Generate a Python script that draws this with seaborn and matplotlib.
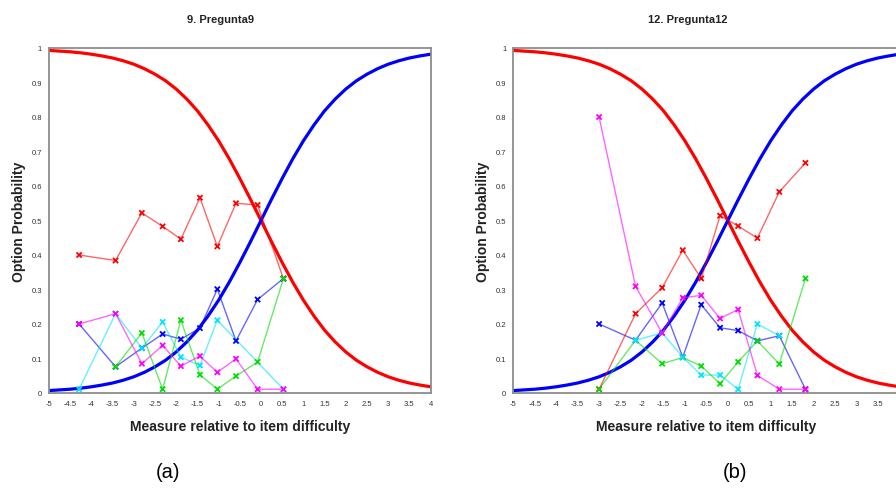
import numpy as np
import pandas as pd
import seaborn as sns
import matplotlib.pyplot as plt

sns.set_style("white")
plt.rcParams["font.family"] = ["Liberation Sans", "DejaVu Sans"]

# model curves (same in both panels)
curve_x = [-5, -4.75, -4.5, -4.25, -4, -3.75, -3.5, -3.25, -3, -2.75, -2.5, -2.25,
           -2, -1.75, -1.5, -1.25, -1, -0.75, -0.5, -0.25, 0, 0.25, 0.5, 0.75,
           1, 1.25, 1.5, 1.75, 2, 2.25, 2.5, 2.75, 3, 3.25, 3.5, 3.75, 4]
curve_red = [0.993, 0.991, 0.989, 0.986, 0.982, 0.977, 0.971, 0.963, 0.953, 0.940,
             0.924, 0.905, 0.881, 0.852, 0.818, 0.777, 0.731, 0.679, 0.622, 0.562,
             0.500, 0.438, 0.378, 0.321, 0.269, 0.223, 0.182, 0.148, 0.119, 0.095,
             0.076, 0.060, 0.047, 0.037, 0.029, 0.023, 0.018]
curve_blue = [0.007, 0.009, 0.011, 0.014, 0.018, 0.023, 0.029, 0.037, 0.047, 0.060,
              0.076, 0.095, 0.119, 0.148, 0.182, 0.223, 0.269, 0.321, 0.378, 0.438,
              0.500, 0.562, 0.622, 0.679, 0.731, 0.777, 0.818, 0.852, 0.881, 0.905,
              0.924, 0.940, 0.953, 0.963, 0.971, 0.977, 0.982]

# panel (a): 9. Pregunta9
q9_x = [-4.29, -3.43, -2.81, -2.32, -1.89, -1.44, -1.03, -0.59, -0.08, 0.53]
q9_red = [0.40, 0.384, 0.522, 0.483, 0.446, 0.566, 0.425, 0.55, 0.545, 0.331]
q9_blue = [0.20, 0.076, 0.13, 0.171, 0.156, 0.188, 0.301, 0.151, 0.271, 0.332]
q9_green = [None, 0.076, 0.174, 0.011, 0.211, 0.053, 0.011, 0.049, 0.09, 0.332]
q9_cyan = [0.011, 0.23, 0.13, 0.206, 0.104, 0.08, 0.211, None, None, 0.011]
q9_magenta = [0.20, 0.23, 0.085, 0.138, 0.078, 0.107, 0.06, 0.099, 0.011, 0.011]

# panel (b): 12. Pregunta12
q12_x = [-3.0, -2.15, -1.53, -1.05, -0.62, -0.18, 0.24, 0.69, 1.2, 1.81]
q12_red = [0.011, 0.23, 0.305, 0.414, 0.332, 0.514, 0.484, 0.449, 0.583, 0.667]
q12_blue = [0.20, 0.153, 0.261, 0.104, 0.256, 0.189, 0.181, 0.151, 0.166, 0.011]
q12_green = [0.011, 0.153, 0.085, 0.103, 0.078, 0.027, 0.09, 0.151, 0.084, 0.332]
q12_cyan = [None, 0.153, 0.174, 0.104, 0.052, 0.052, 0.011, 0.20, 0.166, None]
q12_magenta = [0.80, 0.309, 0.174, 0.276, 0.283, 0.216, 0.242, 0.051, 0.011, 0.011]

palette = {"red": "#ff0000", "blue": "#0000ff", "green": "#00dd00",
           "cyan": "#00e5ff", "magenta": "#ff00ff"}


def make_df(xs, series):
    rows = []
    for name, vals in series.items():
        for x, v in zip(xs, vals):
            if v is not None:
                rows.append({"x": x, "p": v, "option": name})
    return pd.DataFrame(rows)


panels = [
    ("9. Pregunta9", "(a)", q9_x, {"red": q9_red, "blue": q9_blue, "green": q9_green,
                                   "cyan": q9_cyan, "magenta": q9_magenta}),
    ("12. Pregunta12", "(b)", q12_x, {"red": q12_red, "blue": q12_blue, "green": q12_green,
                                      "cyan": q12_cyan, "magenta": q12_magenta}),
]

fig = plt.figure(figsize=(8.96, 4.89), dpi=100)
W, H = 896, 489
lefts = [49, 513.3]
unit = [42.4, 42.9]

curves = pd.DataFrame({"x": curve_x * 2,
                       "p": curve_red + curve_blue,
                       "curve": ["red"] * len(curve_x) + ["blue"] * len(curve_x)})

for i, (title, tag, xs, series) in enumerate(panels):
    left = lefts[i]
    width = 9 * unit[i]
    ax = fig.add_axes([left / W, (H - 394) / H, width / W, 345 / H])
    df = make_df(xs, series)

    sns.lineplot(data=curves, x="x", y="p", hue="curve", palette=palette,
                 linewidth=2.3, legend=False, ax=ax, sort=False)
    for name, sub in df.groupby("option"):
        sns.lineplot(data=sub, x="x", y="p", color=palette[name], linewidth=1,
                     alpha=0.6, legend=False, ax=ax, estimator=None)
    sns.scatterplot(data=df, x="x", y="p", hue="option", palette=palette,
                    marker="x", s=14, linewidth=1.3, legend=False, ax=ax, zorder=4)

    ax.set_xlim(-5, 4)
    ax.set_ylim(0, 1)
    xt = np.arange(-5, 4.01, 0.5)
    ax.set_xticks(xt)
    labels = [("%g" % t) for t in xt]
    if i == 1:
        labels[-1] = ""  # right panel is cropped at the image edge
    ax.set_xticklabels(labels)
    yt = np.arange(0, 1.01, 0.1)
    ax.set_yticks(yt)
    ax.set_yticklabels([("%g" % round(t, 1)) for t in yt])
    ax.tick_params(axis="both", direction="out", length=3, width=0.8, color="#555555",
                   labelsize=5.5, labelcolor="#333333", pad=2)
    for sp in ax.spines.values():
        sp.set_color("#8c8c8c")
        sp.set_linewidth(1.3)
    ax.set_xlabel("")
    ax.set_ylabel("")

    cx = (left + width / 2) / W
    fig.text(cx - 19 / W, 1 - 20 / H, title, ha="center", va="center",
             fontsize=8, fontweight="bold", color="#222222")
    fig.text(cx, 1 - 427 / H, "Measure relative to item difficulty", ha="center",
             va="center", fontsize=10, fontweight="bold", color="#222222")
    fig.text((left - 30) / W, 1 - 222 / H, "Option Probability", ha="center",
             va="center", rotation=90, fontsize=10, fontweight="bold", color="#222222")
    fig.text((168 + i * 567) / W, 1 - 472 / H, tag, ha="center", va="center",
             fontsize=14.5, color="black")

fig.savefig("out.png", dpi=100)
